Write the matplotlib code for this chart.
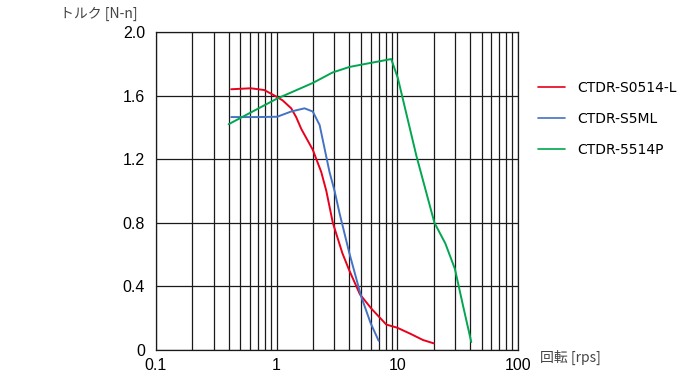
import matplotlib
matplotlib.use("Agg")
import matplotlib.pyplot as plt
from matplotlib.ticker import FixedLocator, NullFormatter

plt.rcParams['font.family'] = ['Liberation Sans', 'Noto Sans CJK JP', 'DejaVu Sans']

red_x = [0.42, 0.61, 0.79, 0.96, 1.12, 1.32, 1.45, 1.6, 1.99, 2.34, 2.58, 2.92, 3.5, 4.0, 4.9, 6.1, 8.1, 10, 13, 16.3, 20]
red_y = [1.64, 1.646, 1.635, 1.60, 1.57, 1.52, 1.465, 1.39, 1.26, 1.12, 1.0, 0.80, 0.61, 0.50, 0.35, 0.26, 0.16, 0.14, 0.10, 0.063, 0.042]

blue_x = [0.42, 0.7, 1.01, 1.32, 1.7, 1.99, 2.27, 2.49, 2.74, 3.02, 3.32, 4.0, 5.0, 6.0, 7.0]
blue_y = [1.465, 1.465, 1.467, 1.50, 1.52, 1.50, 1.415, 1.27, 1.12, 1.0, 0.86, 0.61, 0.34, 0.17, 0.058]

green_x = [0.4, 1.0, 2.0, 2.9, 4.0, 5.5, 7.6, 8.9, 10.1, 14.4, 20.3, 25, 30, 35, 41]
green_y = [1.42, 1.58, 1.68, 1.745, 1.78, 1.80, 1.82, 1.83, 1.71, 1.22, 0.80, 0.67, 0.51, 0.28, 0.05]

series_names = ['CTDR-S0514-L', 'CTDR-S5ML', 'CTDR-5514P']
colors = ['#e8001c', '#4472c4', '#00a650']

y_ticks = [0, 0.4, 0.8, 1.2, 1.6, 2.0]
y_labels = ['0', '0.4', '0.8', '1.2', '1.6', '2.0']
x_ticks = [0.1, 1, 10, 100]
x_labels = ['0.1', '1', '10', '100']

fig = plt.figure(figsize=(6.98, 3.8), dpi=100)
ax = fig.add_axes([156/698, 1-350/380, (518-156)/698, (350-32)/380])
ax.set_xscale('log')
ax.set_xlim(0.1, 100)
ax.set_ylim(0, 2.0)

# grid
minor = [m * 10**e for e in (-1, 0, 1) for m in range(2, 10)]
for v in minor + x_ticks:
    ax.axvline(v, color='#1a1a1a', lw=0.9, zorder=1)
for v in y_ticks:
    ax.axhline(v, color='#1a1a1a', lw=0.9, zorder=1)

lines = []
for xs, ys, c, n in zip([red_x, blue_x, green_x], [red_y, blue_y, green_y], colors, series_names):
    l, = ax.plot(xs, ys, color=c, lw=1.4, label=n, zorder=3,
                 solid_joinstyle='round', solid_capstyle='round')
    lines.append(l)

ax.xaxis.set_major_locator(FixedLocator(x_ticks))
ax.xaxis.set_minor_locator(FixedLocator(minor))
ax.xaxis.set_minor_formatter(NullFormatter())
ax.set_xticklabels(x_labels)
ax.set_yticks(y_ticks)
ax.set_yticklabels(y_labels)
ax.tick_params(axis='both', which='both', length=0, labelsize=11.5, colors='black')
ax.tick_params(axis='y', pad=8)
ax.tick_params(axis='x', pad=6)
for s in ax.spines.values():
    s.set_color('#1a1a1a')
    s.set_linewidth(0.9)

fig.text(60/698, 1-14/380, 'トルク [N-n]', ha='left', va='center', fontsize=10,
         color='#444444', family=['Noto Sans CJK JP', 'DejaVu Sans'])
fig.text(540/698, 1-357/380, '回転 [rps]', ha='left', va='center', fontsize=10,
         color='#444444', family=['Noto Sans CJK JP', 'DejaVu Sans'])

leg = fig.legend(handles=lines, loc='upper left', bbox_to_anchor=(538/698, 1-81/380),
                 frameon=False, handlelength=1.95, handletextpad=0.85,
                 labelspacing=1.23, borderpad=0, borderaxespad=0,
                 prop={'family': ['DejaVu Sans'], 'size': 10})
for h in leg.get_lines():
    h.set_linewidth(1.2)

fig.savefig('out.png', dpi=100)
